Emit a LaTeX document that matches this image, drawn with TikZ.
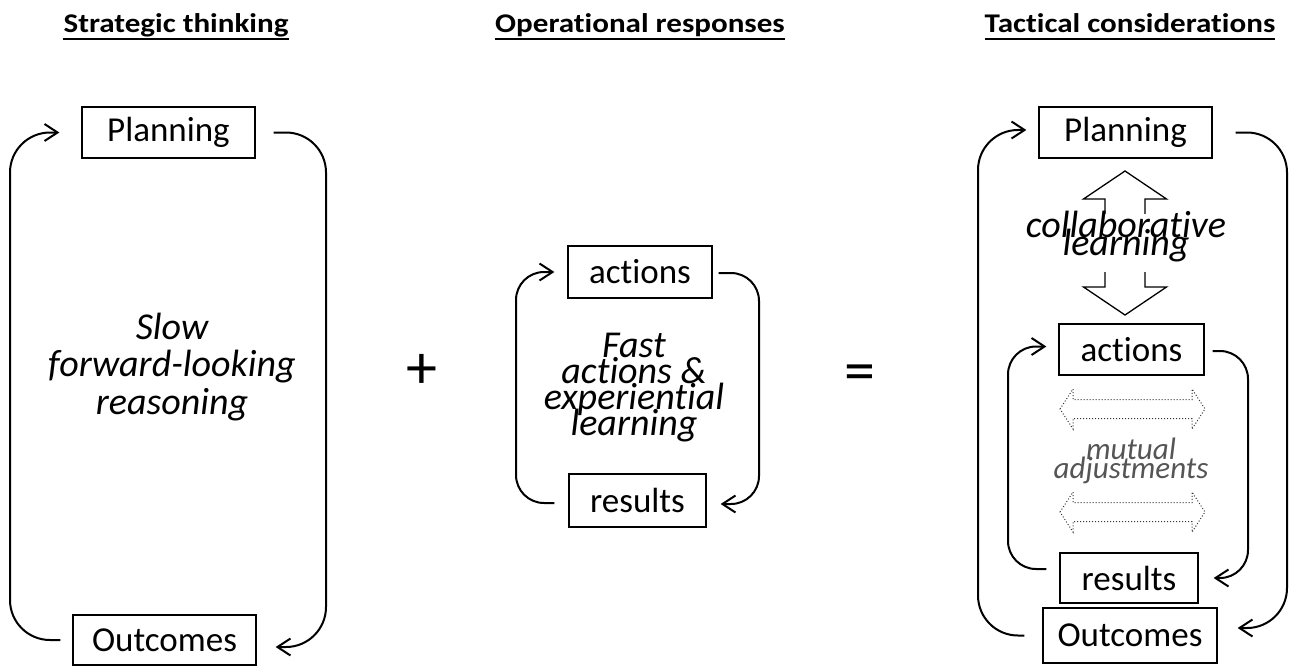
\documentclass[tikz,border=0pt]{standalone}
\usepackage{fontspec}
\setmainfont{Carlito}[Ligatures=NoCommon, RawFeature={-liga;-clig;-calt;-dlig}]
\usetikzlibrary{arrows.meta}
\definecolor{mutgray}{RGB}{85,85,85}
\newcommand\tightlines{\lineskiplimit=-100pt\relax}
\tikzset{
  box/.style={draw, line width=1.3pt, inner sep=0pt, font=\fontsize{35}{40}\selectfont},
  head/.style={inner sep=0pt, anchor=base, font=\fontsize{27}{32}\selectfont\bfseries},
  uline/.style={line width=2pt},
  loopline/.style={line width=2pt, rounded corners=40pt, -{Straight Barb[length=13pt,width=17pt,line width=2pt]}},
  smallloop/.style={line width=2pt, rounded corners=28pt, -{Straight Barb[length=13pt,width=17pt,line width=2pt]}},
  bigtxt/.style={align=center, inner sep=0pt, font={\fontsize{38}{37.5}\selectfont\itshape\tightlines}},
  tighttxt/.style={align=center, inner sep=0pt, font={\fontsize{38}{26}\selectfont\itshape\tightlines}},
  hollow/.style={draw, line width=1.3pt, fill=white},
  dotarrow/.style={draw=black!80, line width=1pt, dotted},
}
\begin{document}
\begin{tikzpicture}[x=1pt,y=-1pt]
\useasboundingbox (0,0) rectangle (1292,666);
% headings
\node[head] (h1) at (176,33) {\scalebox{1.15}[1]{Strategic thinking}};
\node[head] (h2) at (640,33) {\scalebox{1.15}[1]{Operational responses}};
\node[head] (h3) at (1130,33) {\scalebox{1.15}[1]{Tactical considerations}};
\foreach \h in {h1,h2,h3}{
  \draw[uline] ([yshift=-6pt]\h.base west) -- ([yshift=-6pt]\h.base east);
}
% left: strategic
\node[box, minimum width=173pt, minimum height=51pt] (P1) at (168.5,132.5) {Planning};
\node[box, minimum width=183pt, minimum height=50pt] (O1) at (164.5,640) {Outcomes};
\node[bigtxt] (T1) at (172,367) {Slow\\forward-looking\\reasoning};
\draw[loopline] ([xshift=-12pt]O1.west) -| (10,386) |- ([xshift=-22pt]P1.west);
\draw[loopline] ([xshift=18pt]P1.east) -| (326,386) |- ([xshift=19pt,yshift=-7pt]O1.east);
% plus and equals
\node[inner sep=0pt, font=\fontsize{62}{62}\selectfont] (plus) at (422,371) {+};
\node[inner sep=0pt, font=\fontsize{62}{62}\selectfont] (eq) at (860,378) {=};
% middle: operational
\node[box, minimum width=144pt, minimum height=52pt] (A2) at (640,272) {actions};
\node[box, minimum width=137pt, minimum height=53pt] (R2) at (637.5,500.5) {results};
\node[tighttxt] (T2) at (634,388) {Fast\\actions \&\\experiential\\learning};
\draw[smallloop] ([xshift=-14pt,yshift=-2.5pt]R2.west) -| (516,388) |- ([xshift=-13pt]A2.west);
\draw[smallloop] ([xshift=6pt,yshift=-1pt]A2.east) -| (759,388) |- ([xshift=14pt,yshift=-3.5pt]R2.east);
% right: tactical
\node[box, minimum width=173pt, minimum height=51pt] (P3) at (1125.5,132.5) {Planning};
\node[box, minimum width=145pt, minimum height=51pt] (A3) at (1131.5,349.5) {actions};
\node[box, minimum width=138pt, minimum height=50pt] (R3) at (1129,578) {results};
\node[box, minimum width=174pt, minimum height=55pt] (O3) at (1130,635.5) {Outcomes};
% collaborative learning double arrow
\draw[hollow] (1125,171) -- (1166.5,199) -- (1145,199) -- (1145,287) -- (1166.5,287)
   -- (1125,315) -- (1083.5,287) -- (1105,287) -- (1105,199) -- (1083.5,199) -- cycle;
\node[inner sep=0pt, fill=white, minimum width=42pt, minimum height=58pt] (cbg) at (1125,242.5) {};
\node[align=center, inner sep=0pt, font={\fontsize{38}{18}\selectfont\itshape\tightlines}] (T3) at (1126,237) {collaborative\\learning};
% mutual adjustments dotted arrows
\foreach \yy/\nm in {409/d1,512/d2}{
  \coordinate (\nm) at (1132.5,\yy);
  \draw[dotarrow] (1060,\yy) -- (1073,\yy-20) -- (1073,\yy-9.5) -- (1192,\yy-9.5) -- (1192,\yy-20)
     -- (1205,\yy) -- (1192,\yy+20) -- (1192,\yy+9.5) -- (1073,\yy+9.5) -- (1073,\yy+20) -- cycle;
}
\node[align=center, inner sep=0pt, text=mutgray, font={\fontsize{31}{19}\selectfont\itshape\tightlines}] (T4) at (1131,461) {mutual\\adjustments};
% loops
\draw[loopline] ([xshift=-18pt]O3.west) -| (978,386) |- ([xshift=-12pt,yshift=2.5pt]P3.west);
\draw[loopline] ([xshift=23pt]P3.east) -| (1287,386) |- ([xshift=20pt,yshift=7.5pt]O3.east);
\draw[smallloop] ([xshift=-13pt,yshift=9pt]R3.west) -| (1008,466) |- ([xshift=-12pt,yshift=3pt]A3.west);
\draw[smallloop] ([xshift=8pt,yshift=-1.5pt]A3.east) -| (1248,466) |- ([xshift=15pt]R3.east);
\end{tikzpicture}
\end{document}
